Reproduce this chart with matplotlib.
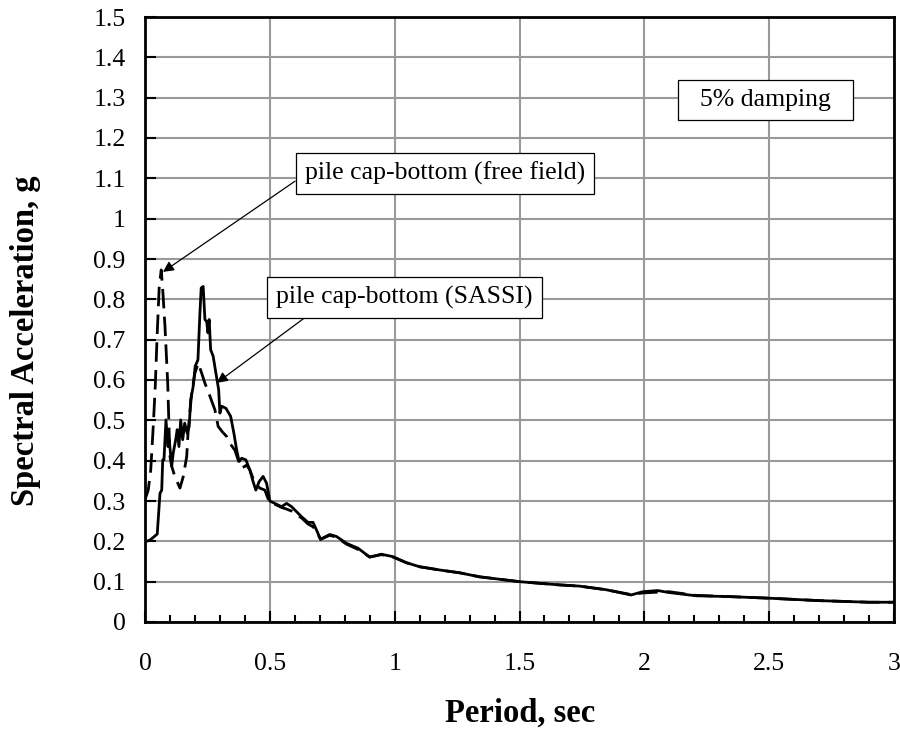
#!/usr/bin/env python3
import matplotlib
matplotlib.use("Agg")
import matplotlib.pyplot as plt
from matplotlib.ticker import MultipleLocator

# SASSI response (solid line)
sassi_period = [0.0, 0.02, 0.049, 0.06, 0.067, 0.071, 0.076, 0.084, 0.092, 0.097,
                0.107, 0.113, 0.123, 0.129, 0.136, 0.143, 0.151, 0.159, 0.169, 0.177,
                0.183, 0.193, 0.201, 0.212, 0.22, 0.225, 0.233, 0.24, 0.247, 0.252,
                0.257, 0.263, 0.273, 0.284, 0.295, 0.30, 0.307, 0.324, 0.343, 0.356,
                0.367, 0.377, 0.387, 0.404, 0.42, 0.433, 0.444, 0.457, 0.473, 0.487,
                0.50, 0.52, 0.547, 0.567, 0.587, 0.627, 0.653, 0.673, 0.687, 0.703,
                0.74, 0.767, 0.807, 0.853, 0.9, 0.947, 0.993, 1.047, 1.1, 1.18,
                1.26, 1.34, 1.42, 1.5, 1.66, 1.74, 1.847, 1.947, 1.993, 2.053,
                2.1, 2.207, 2.34, 2.5, 2.7, 2.9, 3.0]
sassi_sa = [0.199, 0.203, 0.218, 0.319, 0.327, 0.402, 0.402, 0.501, 0.435, 0.452,
            0.386, 0.419, 0.452, 0.477, 0.435, 0.501, 0.452, 0.493, 0.468, 0.485,
            0.551, 0.584, 0.634, 0.650, 0.766, 0.828, 0.832, 0.75, 0.745, 0.717,
            0.75, 0.675, 0.659, 0.617, 0.576, 0.518, 0.535, 0.530, 0.510, 0.468,
            0.427, 0.398, 0.406, 0.402, 0.377, 0.348, 0.327, 0.348, 0.361, 0.344,
            0.300, 0.294, 0.286, 0.294, 0.286, 0.261, 0.247, 0.247, 0.228, 0.205,
            0.217, 0.212, 0.195, 0.183, 0.161, 0.168, 0.162, 0.147, 0.137, 0.129,
            0.122, 0.112, 0.106, 0.100, 0.092, 0.089, 0.080, 0.067, 0.075, 0.078,
            0.073, 0.065, 0.063, 0.059, 0.053, 0.049, 0.049]

# free field response (dashed line)
ff_period = [0.0, 0.013, 0.023, 0.033, 0.041, 0.049, 0.057, 0.065, 0.071, 0.08,
             0.091, 0.096, 0.1, 0.107, 0.12, 0.14, 0.153, 0.167, 0.173, 0.187,
             0.2, 0.213, 0.227, 0.24, 0.26, 0.28, 0.293, 0.309, 0.327, 0.34,
             0.36, 0.373, 0.387, 0.407, 0.42, 0.44, 0.46, 0.48, 0.50, 0.52,
             0.547, 0.567, 0.587, 0.627, 0.653, 0.673, 0.687, 0.703, 0.74, 0.767,
             0.807, 0.853, 0.9, 0.947, 0.993, 1.047, 1.1, 1.18, 1.26, 1.34,
             1.42, 1.5, 1.66, 1.74, 1.847, 1.947, 1.993, 2.053, 2.1, 2.207,
             2.34, 2.5, 2.7, 2.9, 3.0]
ff_sa = [0.303, 0.327, 0.377, 0.485, 0.584, 0.716, 0.832, 0.873, 0.824, 0.733,
         0.592, 0.485, 0.41, 0.386, 0.36, 0.332, 0.36, 0.41, 0.476, 0.567,
         0.617, 0.642, 0.617, 0.592, 0.56, 0.526, 0.485, 0.472, 0.46, 0.443,
         0.426, 0.402, 0.381, 0.389, 0.377, 0.344, 0.332, 0.327, 0.294, 0.292,
         0.284, 0.280, 0.275, 0.258, 0.243, 0.236, 0.225, 0.205, 0.215, 0.210,
         0.193, 0.180, 0.161, 0.167, 0.161, 0.147, 0.137, 0.129, 0.122, 0.112,
         0.106, 0.100, 0.092, 0.089, 0.080, 0.068, 0.072, 0.074, 0.075, 0.066,
         0.063, 0.059, 0.053, 0.049, 0.049]

x_ticks = [0, 0.5, 1, 1.5, 2, 2.5, 3]
x_tick_labels = ["0", "0.5", "1", "1.5", "2", "2.5", "3"]
y_ticks = [0, 0.1, 0.2, 0.3, 0.4, 0.5, 0.6, 0.7, 0.8, 0.9, 1.0, 1.1, 1.2, 1.3, 1.4, 1.5]
y_tick_labels = ["0", "0.1", "0.2", "0.3", "0.4", "0.5", "0.6", "0.7", "0.8",
                 "0.9", "1", "1.1", "1.2", "1.3", "1.4", "1.5"]

label_ff = "pile cap-bottom (free field)"
label_sassi = "pile cap-bottom (SASSI)"
label_damping = "  5% damping  "

plt.rcParams["font.family"] = ["Liberation Serif", "DejaVu Serif"]

fig = plt.figure(figsize=(9, 7.29), dpi=100)
ax = fig.add_axes([145 / 900, 1 - 622 / 729, 749 / 900, 605 / 729])

ax.plot(sassi_period, sassi_sa, color="black", lw=2.0, zorder=3)
ax.plot(ff_period, ff_sa, color="black", lw=2.0, dashes=(7, 3), zorder=3)

ax.set_xticks(x_ticks, x_tick_labels)
ax.set_yticks(y_ticks, y_tick_labels)
ax.xaxis.set_minor_locator(MultipleLocator(0.1))
ax.set_xlim(0, 3)
ax.set_ylim(0, 1.5)
ax.grid(True, which="major", color="#999999", lw=1.5, zorder=0)
ax.set_axisbelow(True)
ax.tick_params(axis="both", which="both", direction="in", width=1.5, labelsize=18.5)
ax.tick_params(axis="x", which="major", length=8, pad=22)
ax.tick_params(axis="x", which="minor", length=5)
ax.tick_params(axis="y", which="major", length=8, pad=14, left=True, right=False)
for spine in ax.spines.values():
    spine.set_linewidth(2.0)

box = dict(boxstyle="square,pad=0.35", fc="white", ec="black", lw=0.9)
ax.annotate(label_ff, xy=(0.072, 0.868), xytext=(1.2, 1.112), fontsize=18.5,
            ha="center", va="center", bbox=box, zorder=5,
            arrowprops=dict(arrowstyle="-|>", color="black", lw=0.9,
                            mutation_scale=16, relpos=(0.0, 0.45), shrinkA=0, shrinkB=0))
ax.annotate(label_sassi, xy=(0.288, 0.593), xytext=(1.04, 0.804), fontsize=18.5,
            ha="center", va="center", bbox=box, zorder=5,
            arrowprops=dict(arrowstyle="-|>", color="black", lw=0.9,
                            mutation_scale=16, relpos=(0.155, 0.0), shrinkA=0, shrinkB=0))
ax.text(2.484, 1.293, label_damping, fontsize=18.5, ha="center", va="center",
        bbox=box, zorder=5)

fig.text(520 / 900, 1 - 713 / 729, "Period, sec", fontsize=23.5, fontweight="bold",
         ha="center", va="center")
fig.text(26 / 900, 1 - 341 / 729, "Spectral Acceleration, g", fontsize=23.5,
         fontweight="bold", ha="center", va="center", rotation=90)

fig.savefig("out.png", dpi=100)
